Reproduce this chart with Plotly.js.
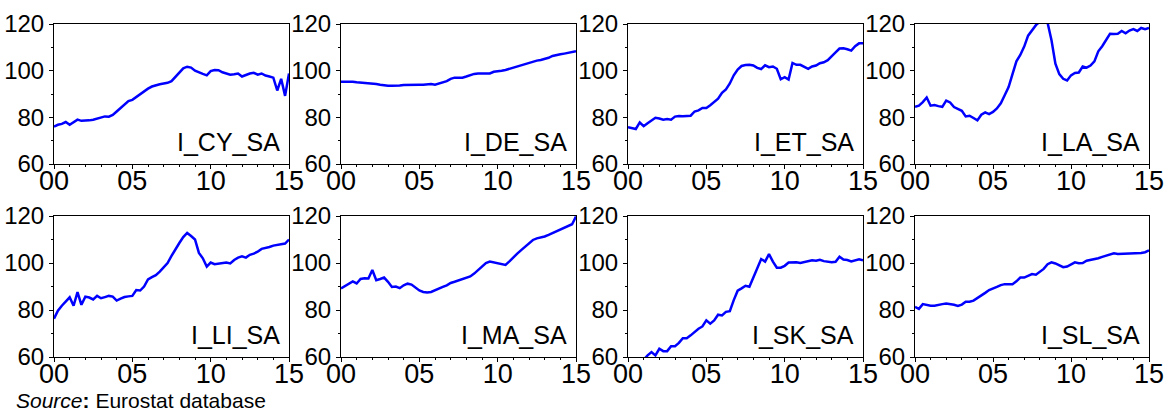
<!DOCTYPE html>
<html>
<head>
<meta charset="utf-8">
<script src="https://cdn.plot.ly/plotly-3.0.1.min.js"></script>
<style>html,body{margin:0;padding:0;background:#fff;}#chart{width:1169px;height:414px;}</style>
</head>
<body>
<div id="chart"></div>
<script>
// Quarterly observations, 2000Q1 .. 2015Q1
const periods = [];
for (let yr = 2000; yr <= 2015; yr++) {
  for (let q = 0; q < 4; q++) {
    if (yr === 2015 && q > 0) break;
    periods.push(yr + q / 4);
  }
}

const panelNames = ["I_CY_SA", "I_DE_SA", "I_ET_SA", "I_LA_SA", "I_LI_SA", "I_MA_SA", "I_SK_SA", "I_SL_SA"];
const xTickVals = [2000, 2005, 2010, 2015];
const xTickText = ["00", "05", "10", "15"];
const yTickVals = [60, 80, 100, 120];

const I_CY_SA = [76, 76.8, 77.2, 78, 76.8, 78, 79, 78.5, 78.5, 78.7, 79, 79.5, 80.2, 80.4, 80.3, 81,
  82.5, 84, 85.5, 87, 87.5, 88.8, 90, 91.2, 92.3, 93.2, 93.8, 94.2, 94.5, 94.8, 95.5, 97.3,
  99.5, 101, 101.7, 101.3, 100, 99.2, 98.6, 98, 99.8, 100.3, 100.2, 99.3, 98.8, 98.3, 98.5, 98.8,
  97.5, 98.2, 98.8, 99.1, 98.3, 98.8, 97.9, 97.5, 97, 91.5, 96.5, 89.2, 98.8];
const I_DE_SA = [95.3, 95.3, 95.5, 95.2, 95, 94.9, 94.8, 94.7, 94.6, 94.3, 94, 93.7, 93.5, 93.5, 93.5, 93.6,
  93.9, 94, 94.1, 94.2, 94, 94, 94.2, 94.3, 94, 94.5, 95.3, 95.5, 96.5, 97, 97, 97,
  97.5, 98.2, 98.6, 98.8, 98.8, 98.7, 98.8, 99.5, 99.6, 100, 100.3, 100.8, 101.3, 102, 102.5, 103,
  103.6, 104, 104.3, 104.6, 105, 105.5, 106.3, 106.8, 107, 107.3, 107.7, 108.2, 108.3];
const I_ET_SA = [75.8, 75.5, 75, 77.8, 76.2, 77.5, 78.8, 79.8, 79.5, 79, 79.3, 79, 80.3, 80.6, 80.5, 80.6,
  80.7, 82.5, 83, 84, 84, 85.2, 86.5, 88, 90.5, 92, 94.5, 98, 100.5, 102, 102.4, 102.5,
  102.2, 101.2, 100.7, 102.3, 101.5, 101.8, 100.8, 96.3, 97.2, 96.2, 103.3, 102.5, 102.5, 101.5, 100.8, 101.8,
  102.2, 103.2, 103.6, 104.5, 106, 107.8, 109.5, 109.6, 109.2, 108.6, 110.5, 111.7, 111.7];
const I_LA_SA = [84.5, 85, 86.5, 88.5, 85, 85.3, 84.8, 84.5, 87.2, 86.4, 84.4, 83.5, 82.8, 80.4, 80.7, 79.7,
  78.7, 81.1, 82.1, 81.4, 82.3, 83.8, 86, 89.5, 93, 98.5, 104, 106.7, 110.3, 115, 117.2, 119.5,
  121, 122.5, 120.5, 113, 103, 98.5, 96.5, 95.8, 98, 99, 99.2, 101.8, 101.3, 102.2, 104, 108.3,
  110.5, 113, 115.8, 115.7, 115.8, 117, 116, 117.2, 117.8, 117, 118.3, 117.8, 118.3];
const I_LI_SA = [76.3, 79.7, 81.8, 83.5, 85.4, 81.8, 87.6, 82.2, 85.7, 85.3, 84.5, 86, 85, 85.5, 86, 85.7,
  84, 84.8, 85.5, 85.8, 86, 88.5, 88.3, 90, 93, 94, 94.8, 96.3, 98, 100, 103, 106,
  108.5, 111, 112.8, 111.5, 110, 104.3, 102, 98.5, 100.2, 99.5, 99.7, 99.8, 100.2, 99.8, 101.3, 102.3,
  102.8, 102.3, 103.5, 104, 104.8, 106, 106.3, 106.8, 107.4, 107.6, 107.8, 108.3, 110];
const I_MA_SA = [89.2, 90.2, 91.3, 92.2, 91.3, 93.2, 93.5, 93.4, 97, 92.7, 93.2, 93.8, 92, 89.8, 90, 89.3,
  90.5, 91.2, 90.8, 89.5, 88.3, 87.7, 87.5, 87.7, 88.3, 89, 89.8, 90.5, 91.5, 92, 92.5, 93.2,
  93.6, 94.3, 95.5, 97, 98.5, 100, 100.6, 100.2, 99.8, 99.4, 99.2, 100.7, 102.5, 104, 105.5, 107,
  108.5, 109.8, 110.5, 110.8, 111.3, 112, 112.8, 113.6, 114.3, 115.1, 115.8, 116.5, 119.8];
const I_SK_SA = [56.5, 57.2, 57.8, 58.3, 58.8, 60.7, 62.1, 60.7, 63.5, 62.5, 62.5, 64.6, 64.6, 66, 68, 68,
  69.2, 70.8, 72, 73, 75.6, 74.2, 75.6, 78, 77.7, 79.2, 79.5, 84.2, 88.2, 89.2, 90.3, 89.9,
  94.1, 97.7, 101.7, 100.6, 103.8, 100.6, 98, 98, 98.8, 100.2, 100.3, 100.3, 100, 100.5, 101, 101.2,
  101, 101.4, 100.8, 100.5, 100.3, 100.5, 102.7, 101.5, 101.3, 100.7, 101.2, 101.6, 101.2];
const I_SL_SA = [81.3, 80.5, 82.5, 82, 81.8, 81.8, 82, 82.5, 82.8, 82.6, 82.2, 81.7, 82.3, 83.5, 83.5, 84,
  85, 86.3, 87.3, 88.5, 89, 89.8, 90.6, 91, 91, 91, 92.2, 93.8, 93.8, 94.5, 95.3, 95,
  96.2, 97.5, 99.5, 100.3, 99.8, 99, 98.2, 98.5, 99.5, 100.3, 99.9, 100, 101, 101.3, 101.5, 102,
  102.6, 103.2, 103.8, 104.1, 103.8, 103.9, 104, 103.8, 104.2, 104.2, 104.3, 104.6, 105.4];

const seriesList = [I_CY_SA, I_DE_SA, I_ET_SA, I_LA_SA, I_LI_SA, I_MA_SA, I_SK_SA, I_SL_SA];

const W = 1169, H = 414;
const colPx = [[54, 289], [341, 576], [628, 863], [915, 1149]];
const rowPx = [[24, 164], [216, 357]];
const FONT = "Liberation Sans, Arial, Helvetica, sans-serif";

const traces = [];
const layout = {
  width: W, height: H,
  margin: {l: 0, r: 0, t: 0, b: 0},
  paper_bgcolor: "#ffffff",
  plot_bgcolor: "#ffffff",
  showlegend: false,
  font: {family: FONT, color: "#000000"},
  annotations: []
};

for (let i = 0; i < 8; i++) {
  const r = Math.floor(i / 4), c = i % 4;
  const sfx = i === 0 ? "" : String(i + 1);
  traces.push({
    type: "scatter", mode: "lines",
    x: periods, y: seriesList[i],
    xaxis: "x" + sfx, yaxis: "y" + sfx,
    line: {color: "#0000ff", width: 2.5},
    hoverinfo: "skip"
  });
  layout["xaxis" + sfx] = {
    domain: [colPx[c][0] / W, colPx[c][1] / W],
    anchor: "y" + sfx,
    range: [2000, 2015],
    tickmode: "array", tickvals: xTickVals, ticktext: xTickText,
    ticks: "outside", ticklen: 4, tickwidth: 1, tickcolor: "#000",
    ticklabelstandoff: -11,
    minor: {dtick: 1, tick0: 2000, ticks: "outside", ticklen: 2, tickwidth: 1, tickcolor: "#000", showgrid: false},
    showline: true, linecolor: "#000", linewidth: 1, mirror: true,
    showgrid: false, zeroline: false,
    tickfont: {family: FONT, size: 27, color: "#000"},
    fixedrange: true
  };
  layout["yaxis" + sfx] = {
    domain: [1 - rowPx[r][1] / H, 1 - rowPx[r][0] / H],
    anchor: "x" + sfx,
    range: [60, 120],
    tickmode: "array", tickvals: yTickVals,
    ticks: "outside", ticklen: 4, tickwidth: 1, tickcolor: "#000",
    minor: {dtick: 10, tick0: 60, ticks: "outside", ticklen: 2, tickwidth: 1, tickcolor: "#000", showgrid: false},
    showline: true, linecolor: "#000", linewidth: 1, mirror: true,
    showgrid: false, zeroline: false,
    tickfont: {family: FONT, size: 24, color: "#000"},
    fixedrange: true
  };
  layout.annotations.push({
    xref: "x" + sfx + " domain", yref: "y" + sfx + " domain",
    x: 0.97, y: 0.04, xanchor: "right", yanchor: "bottom",
    text: panelNames[i], showarrow: false,
    font: {family: FONT, size: 25, color: "#000"}
  });
}

layout.annotations.push({
  xref: "paper", yref: "paper",
  x: 14 / W, y: 0, xanchor: "left", yanchor: "bottom",
  text: "<i>Source</i><b>:</b> Eurostat database", showarrow: false,
  font: {family: FONT, size: 21, color: "#000"}
});

Plotly.newPlot("chart", traces, layout, {displayModeBar: false, staticPlot: true});
</script>
</body>
</html>
